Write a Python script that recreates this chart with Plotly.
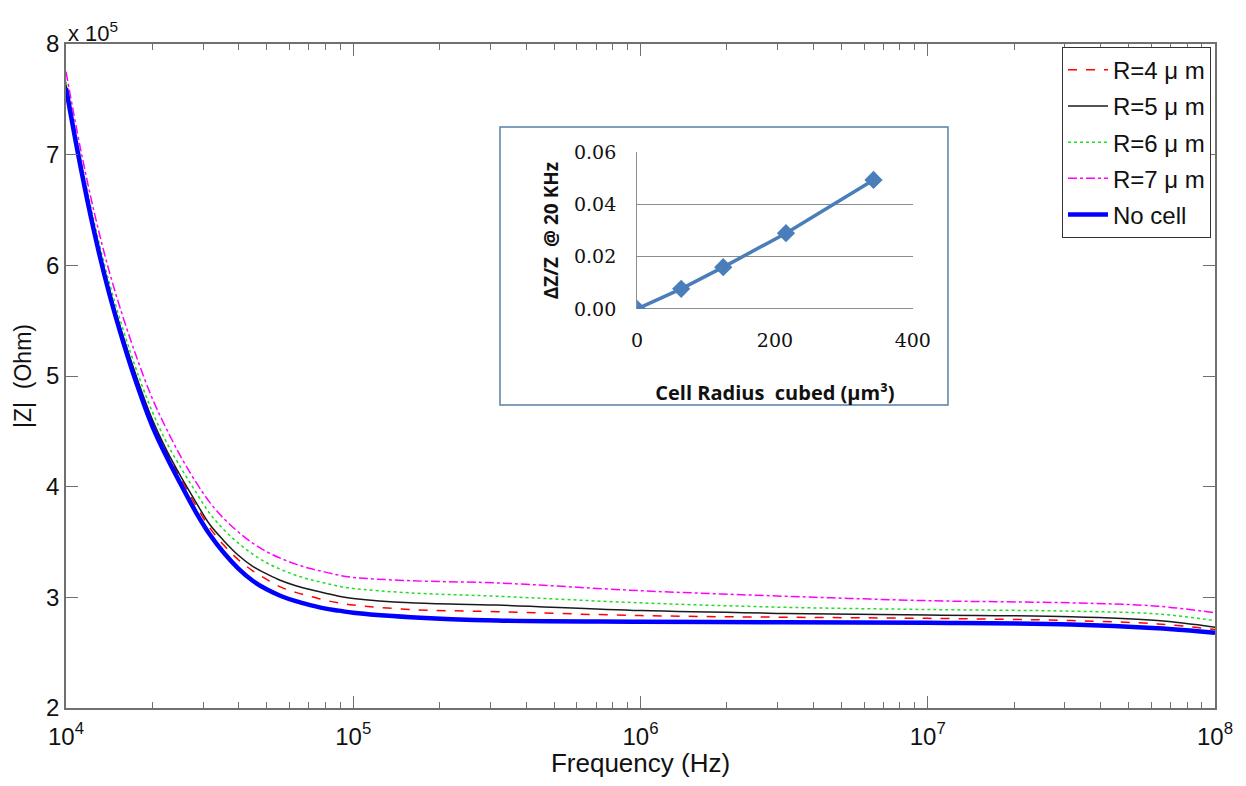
import plotly.graph_objects as go

# ---- main chart data (|Z| in units of 1e5 Ohm) ----
log_freq = [4.00, 4.05, 4.10, 4.15, 4.20, 4.25, 4.30, 4.35, 4.40, 4.45, 4.50, 4.55, 4.60, 4.65, 4.70,
            4.75, 4.80, 4.85, 4.90, 4.95, 5.00, 5.2, 5.5, 6.0, 6.5, 7.0, 7.5, 7.8, 8.0]
freq_hz = [10 ** v for v in log_freq]
z_r4 = [7.62, 6.93, 6.31, 5.78, 5.33, 4.94, 4.59, 4.31, 4.07, 3.84, 3.63, 3.47, 3.34, 3.24, 3.16,
        3.09, 3.045, 3.01, 2.975, 2.95, 2.93, 2.89, 2.87, 2.835, 2.82, 2.81, 2.79, 2.76, 2.71]
z_r5 = [7.63, 6.94, 6.32, 5.79, 5.35, 4.96, 4.61, 4.33, 4.09, 3.87, 3.66, 3.51, 3.38, 3.28, 3.21,
        3.15, 3.105, 3.07, 3.04, 3.01, 2.99, 2.95, 2.93, 2.88, 2.855, 2.84, 2.825, 2.79, 2.73]
z_r6 = [7.66, 6.98, 6.37, 5.85, 5.41, 5.02, 4.68, 4.40, 4.17, 3.96, 3.76, 3.61, 3.49, 3.39, 3.31,
        3.25, 3.20, 3.16, 3.13, 3.10, 3.08, 3.04, 3.01, 2.95, 2.91, 2.89, 2.875, 2.85, 2.79]
z_r7 = [7.75, 7.06, 6.46, 5.95, 5.52, 5.14, 4.80, 4.52, 4.27, 4.05, 3.86, 3.71, 3.59, 3.49, 3.41,
        3.35, 3.30, 3.26, 3.23, 3.20, 3.18, 3.15, 3.13, 3.06, 3.01, 2.97, 2.95, 2.92, 2.86]
z_nocell = [7.60, 6.90, 6.28, 5.75, 5.30, 4.90, 4.55, 4.27, 4.02, 3.78, 3.57, 3.40, 3.26, 3.15, 3.07,
            3.01, 2.965, 2.93, 2.90, 2.88, 2.86, 2.82, 2.79, 2.78, 2.775, 2.77, 2.755, 2.72, 2.68]

series_names = ["R=4 \u03bc m", "R=5 \u03bc m", "R=6 \u03bc m", "R=7 \u03bc m", "No cell"]

x_tickvals = [1e4, 1e5, 1e6, 1e7, 1e8]
x_ticktext = ["10<sup>4</sup>", "10<sup>5</sup>", "10<sup>6</sup>", "10<sup>7</sup>", "10<sup>8</sup>"]
y_tickvals = [2, 3, 4, 5, 6, 7, 8]

# ---- inset data ----
radius_cubed = [0, 64, 125, 216, 343]
dz_over_z = [0.0, 0.0077, 0.016, 0.029, 0.0494]
inset_yticks = [0.0, 0.02, 0.04, 0.06]
inset_yticktext = ["0.00", "0.02", "0.04", "0.06"]
inset_xticks = [0, 200, 400]

fig = go.Figure()

styles = [
    dict(color="#ff0000", width=1.5, dash="dash"),
    dict(color="#1a1a1a", width=1.5, dash="solid"),
    dict(color="#22dd22", width=1.5, dash="dot"),
    dict(color="#ff00ff", width=1.5, dash="dashdot"),
    dict(color="#0000ff", width=4.5, dash="solid"),
]
for i, (name, ys, st) in enumerate(zip(series_names, [z_r4, z_r5, z_r6, z_r7, z_nocell], styles)):
    fig.add_trace(go.Scatter(x=freq_hz, y=ys, mode="lines", name=name, legendgroup=f"g{i}",
                             line=dict(shape="spline", smoothing=1.0, **st),
                             xaxis="x", yaxis="y"))

fig.add_trace(go.Scatter(x=radius_cubed, y=dz_over_z, mode="lines+markers",
                         line=dict(color="#4a7ebb", width=3.5),
                         marker=dict(symbol="diamond", size=14, color="#4a7ebb"),
                         showlegend=False, xaxis="x2", yaxis="y2"))

axis_col = "#707070"
inset_font = "Open Sans, sans-serif"
fig.update_layout(
    width=1230, height=770,
    margin=dict(l=58, r=23, t=36, b=70, autoexpand=False),
    paper_bgcolor="white", plot_bgcolor="white",
    font=dict(family="Liberation Sans, Arial, sans-serif", color="#111"),
    xaxis=dict(type="log", range=[4, 8], tickvals=x_tickvals, ticktext=x_ticktext,
               ticks="inside", ticklen=12, tickcolor=axis_col, automargin=False,
               ticklabelstandoff=6,
               minor=dict(ticks="inside", ticklen=6, tickcolor=axis_col, showgrid=False, dtick="D1"),
               showline=True, linecolor=axis_col, linewidth=1.5, mirror="allticks",
               showgrid=False, zeroline=False,
               tickfont=dict(size=24),
               title=dict(text="Frequency (Hz)", font=dict(size=26), standoff=10)),
    yaxis=dict(range=[2, 8], tickvals=y_tickvals, automargin=False,
               ticks="inside", ticklen=12, tickcolor=axis_col,
               showline=True, linecolor=axis_col, linewidth=1.5, mirror="allticks",
               showgrid=False, zeroline=False,
               tickfont=dict(size=24),
               title=dict(text="|Z|  (Ohm)", font=dict(size=23), standoff=8)),
    xaxis2=dict(domain=[0.497, 0.737], anchor="y2", range=[0, 400], tickvals=inset_xticks,
                showgrid=False, zeroline=False, showline=False,
                ticks="outside", ticklen=14, tickcolor="rgba(0,0,0,0)", automargin=False,
                tickfont=dict(family="DejaVu Serif, serif", size=19),
                title=dict(text="<b>Cell Radius  cubed (\u03bcm\u00b3)</b>",
                           font=dict(family=inset_font, size=20), standoff=36)),
    yaxis2=dict(domain=[0.601, 0.837], anchor="x2", range=[0, 0.06],
                tickvals=inset_yticks, ticktext=inset_yticktext, automargin=False,
                showgrid=True, gridcolor="#8c8c8c", gridwidth=1,
                zeroline=True, zerolinecolor="#8c8c8c", zerolinewidth=1,
                showline=True, linecolor="#8c8c8c", linewidth=1,
                ticks="outside", ticklen=16, tickcolor="rgba(0,0,0,0)",
                tickfont=dict(family="DejaVu Serif, serif", size=19),
                title=dict(text="<b>\u0394Z/Z  @ 20 KHz</b>",
                           font=dict(family=inset_font, size=19), standoff=10)),
    legend=dict(x=0.9965, xanchor="right", y=0.996, yanchor="top",
                bgcolor="white", bordercolor="#333", borderwidth=1,
                font=dict(size=24), tracegroupgap=2, itemwidth=40),
    shapes=[dict(type="rect", xref="paper", yref="paper",
                 x0=0.3777, x1=0.7676, y0=0.4563, y1=0.875,
                 line=dict(color="#5a7fa8", width=1.5), fillcolor="white", layer="below")],
    annotations=[dict(text="x 10<sup>5</sup>", xref="paper", yref="paper",
                      x=0.0, y=1.0, xanchor="left", yanchor="bottom", showarrow=False,
                      font=dict(size=22), yshift=-4, xshift=0)],
)

fig.write_html("out.html")
